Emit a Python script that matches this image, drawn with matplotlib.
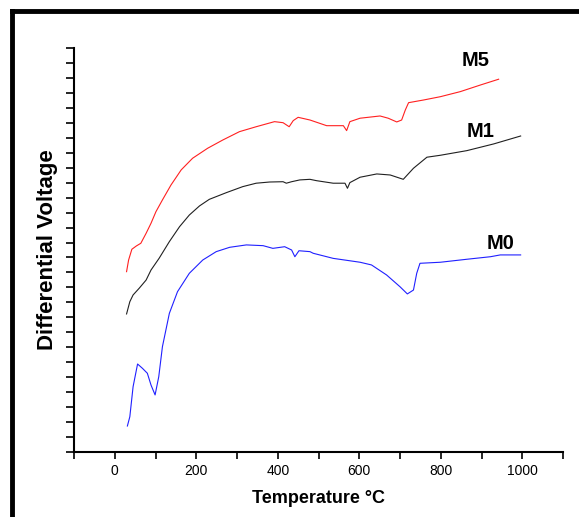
import matplotlib.pyplot as plt
from matplotlib.lines import Line2D
from matplotlib.ticker import MultipleLocator

plt.rcParams['font.family'] = ['Liberation Sans', 'DejaVu Sans']

# M0 (blue)
m0_t = [31, 37, 45, 56, 68, 80, 89, 99, 108, 117, 134, 154, 183, 216, 249, 282, 323,
        364, 388, 417, 434, 442, 452, 479, 487, 536, 602, 630, 667, 700, 718, 733,
        741, 749, 799, 864, 922, 946, 996]
m0_v = [1.72, 2.34, 4.35, 5.87, 5.58, 5.25, 4.46, 3.80, 5.02, 7.03, 9.26, 10.71, 11.94,
        12.83, 13.39, 13.68, 13.84, 13.79, 13.61, 13.72, 13.50, 13.05, 13.45, 13.39,
        13.28, 12.94, 12.68, 12.50, 11.83, 11.04, 10.56, 10.82, 11.94, 12.61, 12.68,
        12.88, 13.05, 13.17, 13.17]

# M1 (black)
m1_t = [29, 37, 45, 60, 77, 89, 109, 134, 159, 183, 208, 232, 274, 314, 347, 380, 413,
        421, 434, 454, 479, 495, 536, 565, 571, 577, 602, 643, 676, 708, 733, 766,
        799, 864, 930, 996]
m1_v = [9.22, 10.04, 10.49, 10.94, 11.49, 12.16, 12.95, 14.06, 15.06, 15.84, 16.45,
        16.89, 17.34, 17.74, 17.97, 18.05, 18.07, 17.97, 18.07, 18.19, 18.23, 18.14,
        17.97, 17.97, 17.63, 18.01, 18.37, 18.59, 18.52, 18.23, 18.97, 19.71, 19.84,
        20.15, 20.60, 21.13]

# M5 (red)
m5_t = [29, 34, 42, 53, 64, 77, 89, 101, 117, 138, 163, 191, 228, 265, 306, 347, 392,
        413, 428, 438, 450, 479, 520, 561, 569, 577, 602, 651, 671, 692, 704, 713,
        721, 758, 799, 848, 897, 942]
m5_v = [12.05, 12.83, 13.55, 13.77, 13.95, 14.62, 15.29, 16.06, 16.85, 17.85, 18.86,
        19.64, 20.31, 20.86, 21.42, 21.75, 22.09, 22.02, 21.75, 22.16, 22.38, 22.20,
        21.82, 21.82, 21.49, 22.09, 22.32, 22.47, 22.32, 22.07, 22.20, 22.87, 23.36,
        23.54, 23.76, 24.10, 24.54, 24.93]

labels = ['M5', 'M1', 'M0']
label_t = [885, 897, 946]
label_v = [26.2, 21.4, 13.95]

fig = plt.figure(figsize=(5.79, 5.17), dpi=100)
ax = fig.add_axes([0.1278, 0.1263, 0.8446, 0.7803])

ax.plot(m5_t, m5_v, color='#ff2020', lw=0.8)
ax.plot(m1_t, m1_v, color='#202020', lw=0.8)
ax.plot(m0_t, m0_v, color='#2020ff', lw=0.8)

for lab, t, v in zip(labels, label_t, label_v):
    ax.text(t, v, lab, fontsize=14.5, fontweight='bold', ha='center', va='center')

ax.set_xlim(-100, 1100)
ax.set_ylim(0, 27)
ax.xaxis.set_major_locator(MultipleLocator(200))
ax.xaxis.set_minor_locator(MultipleLocator(100))
ax.yaxis.set_major_locator(MultipleLocator(1))
ax.set_yticklabels([])
ax.tick_params(axis='x', which='both', direction='out', length=5, width=1.2, labelsize=10)
ax.tick_params(axis='y', which='both', direction='out', length=6, width=1.2)
for s in ['top', 'right']:
    ax.spines[s].set_visible(False)
for s in ['left', 'bottom']:
    ax.spines[s].set_linewidth(1.5)

ax.set_xlabel('Temperature °C', fontsize=13, fontweight='bold', labelpad=9)
ax.set_ylabel('Differential Voltage', fontsize=16, fontweight='bold', labelpad=2)

# thick frame, cut off at right and bottom
fig.add_artist(Line2D([12 / 579, 12 / 579], [-0.1, 1 - 11 / 517], color='black', lw=3.5,
                      transform=fig.transFigure, solid_capstyle='projecting'))
fig.add_artist(Line2D([12 / 579, 1.1], [1 - 11 / 517, 1 - 11 / 517], color='black', lw=3.5,
                      transform=fig.transFigure, solid_capstyle='projecting'))

fig.savefig('out.png', dpi=100)
